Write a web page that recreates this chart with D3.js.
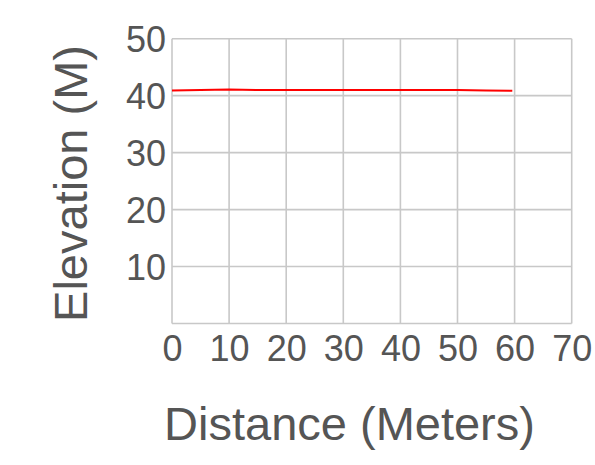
<!DOCTYPE html>
<html>
<head>
<meta charset="utf-8">
<script src="https://cdn.jsdelivr.net/npm/d3@7"></script>
<style>
  html, body { margin: 0; padding: 0; background: #fff; }
  svg { display: block; }
  text { font-family: "Liberation Sans", Arial, sans-serif; fill: #555; }
</style>
</head>
<body>
<svg id="chart" width="595" height="465"></svg>
<script>
const distance = [0, 5, 10, 15, 20, 25, 30, 35, 40, 45, 50, 55, 59.6];
const elevation = [40.9, 41.0, 41.1, 41.0, 41.0, 41.0, 41.0, 41.0, 41.0, 41.0, 41.0, 40.9, 40.85];
const xTicks = [0, 10, 20, 30, 40, 50, 60, 70];
const yTicks = [10, 20, 30, 40, 50];
const xTitle = "Distance (Meters)";
const yTitle = "Elevation (M)";

const svg = d3.select("#chart");
const m = { left: 172, right: 595 - 571.7, top: 38.7, bottom: 465 - 323.5 };
const W = 595, H = 465;

const x = d3.scaleLinear().domain([0, 70]).range([m.left, W - m.right]);
const y = d3.scaleLinear().domain([0, 50]).range([H - m.bottom, m.top]);

const grid = svg.append("g");
grid.selectAll("line.v").data(xTicks).join("line")
  .attr("x1", d => x(d)).attr("x2", d => x(d))
  .attr("y1", y(0)).attr("y2", y(50))
  .attr("stroke", "#c8c8c8").attr("stroke-width", 1.6);
grid.selectAll("line.h").data([0].concat(yTicks)).join("line")
  .attr("y1", d => y(d)).attr("y2", d => y(d))
  .attr("x1", x(0)).attr("x2", x(70))
  .attr("stroke", "#c8c8c8").attr("stroke-width", 1.6);

const xAxis = d3.axisBottom(x).tickValues(xTicks).tickSize(0).tickPadding(0).tickFormat(d3.format("d"));
const gx = svg.append("g").attr("transform", `translate(0,${y(0)})`).call(xAxis);
gx.select(".domain").remove();
gx.selectAll("text").attr("dy", null).attr("y", 37).style("font-size", "36px").style("fill", "#555");

const yAxis = d3.axisLeft(y).tickValues(yTicks).tickSize(0).tickPadding(0).tickFormat(d3.format("d"));
const gy = svg.append("g").attr("transform", `translate(${x(0) - 6},0)`).call(yAxis);
gy.select(".domain").remove();
gy.selectAll("text").attr("dy", "0.35em").attr("x", 0).style("font-size", "36px").style("fill", "#555");

const line = d3.line().x((d, i) => x(distance[i])).y(d => y(d));
svg.append("path").datum(elevation)
  .attr("d", line)
  .attr("fill", "none").attr("stroke", "#ff0000").attr("stroke-width", 2);

svg.append("text").attr("x", 349.5).attr("y", 440)
  .attr("text-anchor", "middle").style("font-size", "47px").text(xTitle);

svg.append("text").attr("transform", `translate(86.5,183.5) rotate(-90)`)
  .attr("text-anchor", "middle").style("font-size", "47px").text(yTitle);
</script>
</body>
</html>
